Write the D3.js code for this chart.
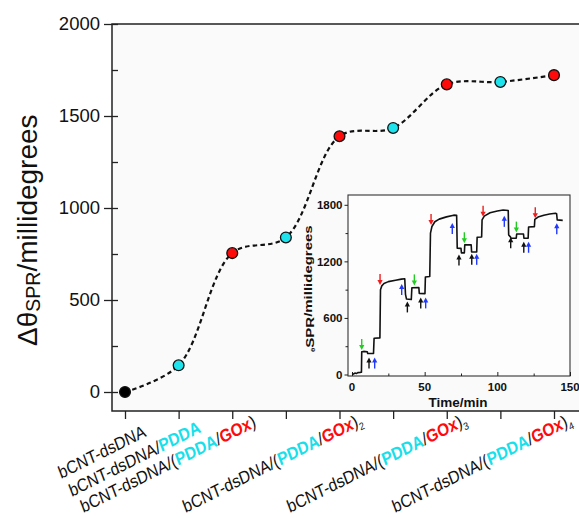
<!DOCTYPE html>
<html>
<head>
<meta charset="utf-8">
<script src="https://cdn.jsdelivr.net/npm/d3@7"></script>
<style>
  body { margin: 0; background: #ffffff; }
  svg { display: block; }
</style>
</head>
<body>
<svg id="chart" width="579" height="518"></svg>
<script>
// ---- Layer-by-layer SPR angle shift ----
const layerKinds  = ["base", "pdda", "gox", "pdda", "gox", "pdda", "gox", "pdda", "gox"];
const shiftValues = [0, 145, 755, 840, 1390, 1435, 1672, 1685, 1722];
const yTicks      = [0, 500, 1000, 1500, 2000];
const yMinorTicks = [250, 750, 1250, 1750];

// Category labels under the axis: layer index and styled text runs
const labelIndex = [0, 1, 2, 4, 6, 8];
const labelRuns = [
  [["bCNT-dsDNA", "plain"]],
  [["bCNT-dsDNA/", "plain"], ["PDDA", "pdda"]],
  [["bCNT-dsDNA/(", "plain"], ["PDDA", "pdda"], ["/", "plain"], ["GOx", "gox"], [")", "plain"]],
  [["bCNT-dsDNA/(", "plain"], ["PDDA", "pdda"], ["/", "plain"], ["GOx", "gox"], [")", "plain"], ["2", "sub"]],
  [["bCNT-dsDNA/(", "plain"], ["PDDA", "pdda"], ["/", "plain"], ["GOx", "gox"], [")", "plain"], ["3", "sub"]],
  [["bCNT-dsDNA/(", "plain"], ["PDDA", "pdda"], ["/", "plain"], ["GOx", "gox"], [")", "plain"], ["4", "sub"]]
];

// ---- Inset: SPR sensorgram ----
const timeMin = [0, 1, 2, 3, 4, 5.5, 6.5, 6.7, 8, 10.5, 10.8, 14.8, 15.2, 19.2, 19.6, 20.5, 22, 25, 30, 34, 36.3,
  36.8, 37.5, 40.8, 41.2, 46, 46.3, 50.2, 50.5, 53.5, 54, 55, 57, 60, 65, 70, 72, 72.4, 75, 75.3, 77.3, 77.6, 82,
  82.3, 85.8, 86.1, 89.2, 89.5, 91, 95, 100, 104, 107.5, 107.8, 109, 109.5, 113, 113.3, 118, 118.3, 121.2, 121.5,
  125.5, 125.8, 128, 132, 136, 140, 140.8, 141.2, 145];
const thetaSPR = [0, 5, 15, 10, 20, 22, 25, 240, 245, 242, 222, 222, 385, 388, 900, 940, 965, 985, 1000, 1012, 1015,
  850, 800, 795, 920, 922, 860, 858, 1035, 1040, 1500, 1570, 1620, 1648, 1672, 1690, 1688, 1340, 1338, 1290, 1290,
  1375, 1375, 1300, 1300, 1455, 1458, 1640, 1680, 1715, 1735, 1745, 1740, 1480, 1460, 1445, 1445, 1490, 1490, 1445,
  1445, 1565, 1568, 1645, 1670, 1690, 1702, 1710, 1705, 1640, 1635];
const insetXTicks = [0, 50, 100, 150];
const insetXMinor = [25, 75, 125];
const insetYTicks = [0, 600, 1200, 1800];
const insetYMinor = [300, 900, 1500];

// Injection / rinse markers: time, value at the arrow tip, kind
const arrowTime = [6.7, 11.7, 15.6, 19.3, 34.2, 38.1, 42.9, 47.3, 50.7, 54.4, 69, 73.6, 77.3, 82.4, 85.8, 90.2,
  104.8, 109.2, 113.1, 118.2, 121.5, 126.1, 140.9];
const arrowTip = [260, 180, 180, 949, 960, 775, 945, 818, 818, 1585, 1607, 1272, 1392, 1280, 1280, 1673, 1683,
  1455, 1505, 1408, 1408, 1657, 1605];
const arrowKind = ["green", "black", "blue", "red", "blue", "black", "green", "black", "blue", "red", "blue", "black",
  "green", "black", "blue", "red", "blue", "black", "green", "black", "blue", "red", "blue"];

// ---- drawing ----
const FONT = '"Liberation Sans", Arial, Helvetica, sans-serif';
const markerFill = { base: "#000000", pdda: "#1ee3ec", gox: "#ff0a0a" };
const runColor = { plain: "#111111", pdda: "#18e0ea", gox: "#ff0a0a", sub: "#111111" };
const arrowColor = { green: "#22cc22", red: "#ee1c1c", blue: "#2038ff", black: "#111111" };

const svg = d3.select("#chart");

const x = d3.scaleLinear().domain([0, 8]).range([125, 554]);
const y = d3.scaleLinear().domain([0, 2000]).range([392, 24]);
const frameLeft = 112, frameBottom = 411, frameTop = y(2000), frameRight = 582;

svg.append("rect")
  .attr("x", frameLeft).attr("y", frameTop)
  .attr("width", frameRight - frameLeft).attr("height", frameBottom - frameTop)
  .attr("fill", "#fafafa");

// y axis: major ticks cross the axis, minor ticks point inward
const gy = svg.append("g").attr("transform", `translate(${frameLeft},0)`)
  .call(d3.axisLeft(y).tickValues(yTicks).tickSize(8).tickPadding(4).tickFormat(d3.format("d")));
gy.select(".domain").remove();
gy.selectAll("line").attr("stroke", "#222").attr("stroke-width", 1.3);
gy.selectAll("text").attr("font-family", FONT).attr("font-size", 18.5).attr("fill", "#111");

const gyIn = svg.append("g").attr("transform", `translate(${frameLeft},0)`)
  .call(d3.axisRight(y).tickValues(yTicks.concat(yMinorTicks)).tickSize(6).tickFormat(""));
gyIn.select(".domain").remove();
gyIn.selectAll("line").attr("stroke", "#222").attr("stroke-width", 1.3);

// x axis ticks
const gx = svg.append("g").attr("transform", `translate(0,${frameBottom})`)
  .call(d3.axisBottom(x).tickValues(d3.range(layerKinds.length)).tickSize(8).tickFormat(""));
gx.select(".domain").remove();
gx.selectAll("line").attr("stroke", "#222").attr("stroke-width", 1.3);

// frame (open on the right)
svg.append("path")
  .attr("d", `M${frameRight},${frameTop}H${frameLeft}V${frameBottom}H${frameRight}`)
  .attr("fill", "none").attr("stroke", "#222").attr("stroke-width", 1.5);

// y title
const yTitle = svg.append("text")
  .attr("transform", "translate(37,346) rotate(-90)")
  .attr("font-family", FONT).attr("font-size", 28).attr("fill", "#111");
yTitle.append("tspan").text("Δθ");
yTitle.append("tspan").attr("font-size", 19.5).attr("dy", 3).text("SPR");
yTitle.append("tspan").attr("dy", -3).text("/millidegrees");

// dashed spline through the layers
const line = d3.line()
  .x((d, i) => x(i)).y(d => y(d))
  .curve(d3.curveCatmullRom.alpha(0.5));
svg.append("path")
  .datum(shiftValues)
  .attr("d", line)
  .attr("fill", "none").attr("stroke", "#111").attr("stroke-width", 2.2)
  .attr("stroke-dasharray", "4.5,3.2");

svg.selectAll("circle.layer")
  .data(shiftValues)
  .join("circle")
  .attr("class", "layer")
  .attr("cx", (d, i) => x(i)).attr("cy", d => y(d)).attr("r", 5.4)
  .attr("fill", (d, i) => markerFill[layerKinds[i]])
  .attr("stroke", "#111").attr("stroke-width", 1.3);

// rotated category labels (slightly tall lettering)
const labelStart = [[-64, 479], [-107, 497], [-149, 513], [-154, 513], [-157, 513], [-159, 513]];
labelIndex.forEach((idx, k) => {
  const t = svg.append("text")
    .attr("transform", `translate(${x(idx) + labelStart[k][0]},${labelStart[k][1]}) scale(1,1.15) rotate(-23.5)`)
    .attr("font-family", FONT).attr("font-size", 15.5);
  labelRuns[k].forEach(([s, kind]) => {
    const ts = t.append("tspan").text(s).attr("fill", runColor[kind]);
    if (kind === "pdda" || kind === "gox") ts.attr("font-weight", "bold");
    if (kind === "sub") ts.attr("font-size", 9).attr("dy", 4);
  });
});

// ---- inset ----
const xi = d3.scaleLinear().domain([0, 150]).range([352, 570]);
const yi = d3.scaleLinear().domain([0, 1800]).range([374.5, 204.8]);
const inL = 348, inR = 570, inT = 195, inB = 376;

svg.append("rect")
  .attr("x", inL).attr("y", inT).attr("width", inR - inL).attr("height", inB - inT)
  .attr("fill", "#fdfdfd").attr("stroke", "#333").attr("stroke-width", 1.1);

const gxi = svg.append("g").attr("transform", `translate(0,${inB})`)
  .call(d3.axisTop(xi).tickValues(insetXTicks).tickSize(4).tickFormat(""));
gxi.select(".domain").remove();
const gxiMinor = svg.append("g").attr("transform", `translate(0,${inB})`)
  .call(d3.axisTop(xi).tickValues(insetXMinor).tickSize(2.5).tickFormat(""));
gxiMinor.select(".domain").remove();

svg.selectAll("text.ixl")
  .data(insetXTicks)
  .join("text")
  .attr("class", "ixl")
  .attr("x", d => xi(d)).attr("y", 391)
  .attr("text-anchor", "middle")
  .attr("font-family", FONT).attr("font-size", 11.5).attr("font-weight", "bold").attr("fill", "#111")
  .text(d => d);

const gyi = svg.append("g").attr("transform", `translate(${inL},0)`)
  .call(d3.axisLeft(yi).tickValues(insetYTicks).tickSize(3.5).tickPadding(2).tickFormat(d3.format("d")));
gyi.select(".domain").remove();
gyi.selectAll("text").attr("font-family", FONT).attr("font-size", 11.5).attr("font-weight", "bold").attr("fill", "#111");
const gyiMinor = svg.append("g").attr("transform", `translate(${inL},0)`)
  .call(d3.axisLeft(yi).tickValues(insetYMinor).tickSize(2.5).tickFormat(""));
gyiMinor.select(".domain").remove();
svg.selectAll(".tick line").attr("stroke", "#222");

svg.append("text")
  .attr("x", 458).attr("y", 407).attr("text-anchor", "middle")
  .attr("font-family", FONT).attr("font-size", 13.5).attr("font-weight", "bold").attr("fill", "#111")
  .text("Time/min");

const iyTitle = svg.append("text")
  .attr("transform", "translate(314,352) scale(0.72,1) rotate(-90)")
  .attr("font-family", FONT).attr("font-size", 15).attr("font-weight", "bold").attr("fill", "#111");
iyTitle.append("tspan").attr("font-size", 8).attr("dy", 2).text("θ");
iyTitle.append("tspan").attr("dy", -2).text("SPR");
iyTitle.append("tspan").attr("dy", -3).text("/millidegrees");

// sensorgram trace
const trace = d3.line().x((d, i) => xi(timeMin[i])).y(d => yi(d));
svg.append("path")
  .datum(thetaSPR)
  .attr("d", trace)
  .attr("fill", "none").attr("stroke", "#111").attr("stroke-width", 1.6)
  .attr("stroke-linejoin", "round");

// injection / rinse arrows
arrowTime.forEach((t, i) => {
  const kind = arrowKind[i];
  const down = kind === "green" || kind === "red";
  const cx = xi(t), tip = yi(arrowTip[i]);
  const s = down ? -1 : 1;           // direction from tip towards tail
  const col = arrowColor[kind];
  svg.append("line")
    .attr("x1", cx).attr("x2", cx)
    .attr("y1", tip + s * 4).attr("y2", tip + s * 11)
    .attr("stroke", col).attr("stroke-width", 1.4);
  svg.append("path")
    .attr("d", `M${cx - 2.6},${tip + s * 5}L${cx + 2.6},${tip + s * 5}L${cx},${tip}Z`)
    .attr("fill", col);
});
</script>
</body>
</html>
